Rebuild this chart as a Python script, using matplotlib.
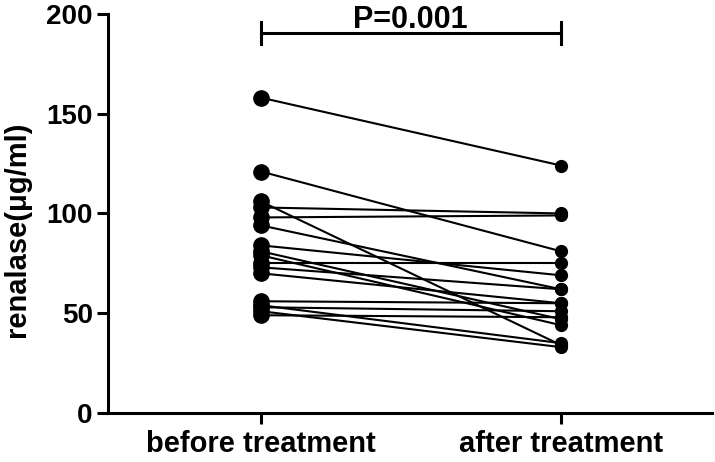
import matplotlib
matplotlib.use("Agg")
import matplotlib.pyplot as plt
from matplotlib import font_manager

# paired renalase values (ug/ml)
groups = ["before treatment", "after treatment"]
before = [158, 121, 106, 103, 98, 94, 84, 81, 79, 75, 73, 70, 56, 54, 53, 51, 49]
after = [124, 81, 34, 100, 99, 62, 69, 47, 44, 75, 62, 55, 55, 35, 51, 33, 48]
y_ticks = [0, 50, 100, 150, 200]
p_text = "P=0.001"

plt.rcParams['font.family'] = ['Liberation Sans', 'DejaVu Sans']
plt.rcParams['font.weight'] = 'bold'

names = {f.name for f in font_manager.fontManager.ttflist}
if 'Liberation Sans Narrow' in names:
    p_font, p_size = ['Liberation Sans Narrow', 'DejaVu Sans'], 27
else:
    p_font, p_size = ['Liberation Sans', 'DejaVu Sans'], 22

fig = plt.figure(figsize=(7.15, 4.62), dpi=100)
ax = fig.add_axes([0.151, 0.106, 0.845, 0.864])

for b, a in zip(before, after):
    ax.plot([0, 1], [b, a], color='black', lw=1.5, zorder=2)
ax.plot([0] * len(before), before, 'o', color='black', ms=11, zorder=3)
ax.plot([1] * len(after), after, 'o', color='black', ms=8.5, zorder=3)

# significance bracket
ax.plot([0, 1], [190.5, 190.5], color='black', lw=2.2, clip_on=False)
ax.plot([0, 0], [185, 196], color='black', lw=2.2, clip_on=False)
ax.plot([1, 1], [185, 196], color='black', lw=2.2, clip_on=False)
ax.text(0.497, 192.8, p_text, ha='center', va='baseline', fontsize=p_size,
        fontweight='bold', family=p_font)

ax.set_xlim(-0.51, 1.503)
ax.set_ylim(0, 200)
ax.set_yticks(y_ticks)
ax.set_xticks([0, 1])
ax.set_xticklabels(groups, fontsize=21, fontweight='bold')
ax.tick_params(axis='y', labelsize=20, width=2.2, length=8, pad=3)
ax.tick_params(axis='x', width=2.2, length=8, pad=4)
for lab in ax.get_yticklabels():
    lab.set_fontweight('bold')
ax.set_ylabel("renalase(μg/ml)", fontsize=21, fontweight='bold')
ax.yaxis.set_label_coords(-0.128, 0.46)

for s in ['top', 'right']:
    ax.spines[s].set_visible(False)
for s in ['left', 'bottom']:
    ax.spines[s].set_linewidth(2.2)

fig.savefig("out.png", dpi=100)
